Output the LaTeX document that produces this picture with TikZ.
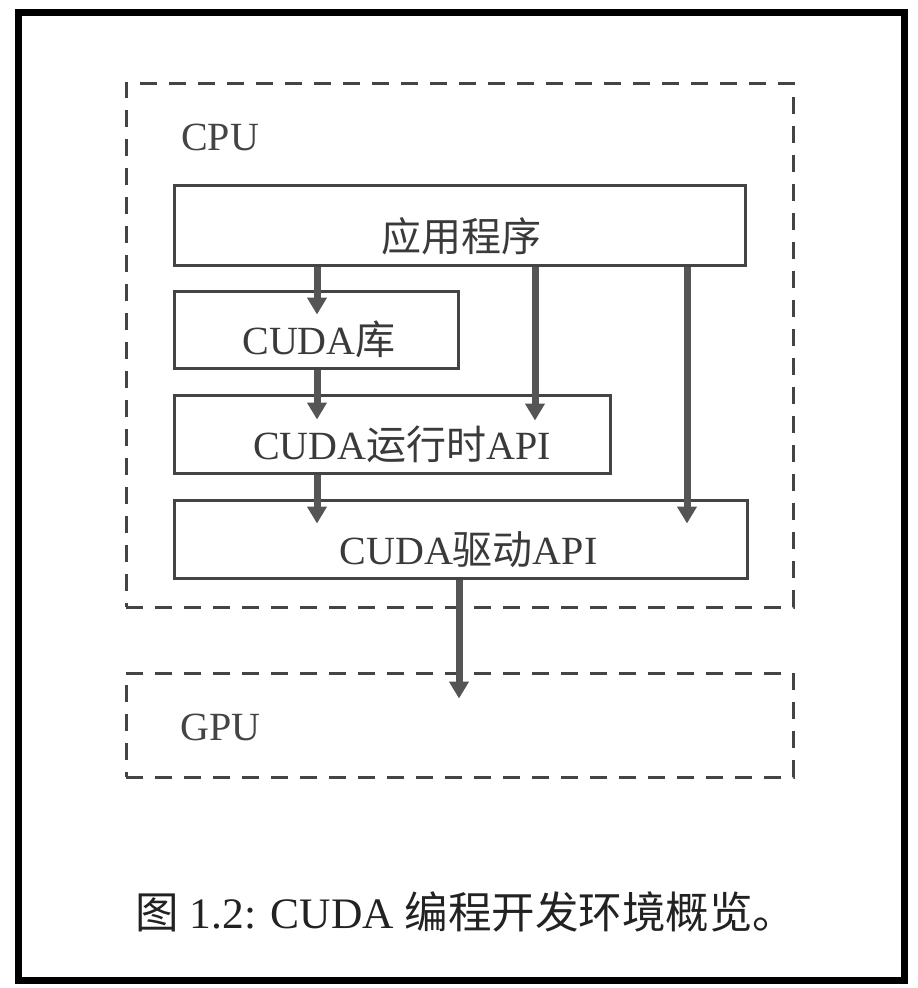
\documentclass[tikz,border=0pt]{standalone}
\usepackage{fontspec}
\setmainfont{Liberation Serif}
\newfontfamily\cjk{Noto Sans CJK SC}
\usetikzlibrary{arrows.meta}
\definecolor{boxline}{HTML}{444444}
\definecolor{arrowc}{HTML}{555555}
\definecolor{txt}{HTML}{3A3A3A}
\definecolor{captxt}{HTML}{222222}
\tikzset{
  layer/.style={draw=boxline, line width=3pt, rectangle, inner sep=0pt},
  zone/.style={draw=boxline, line width=3pt, rectangle, inner sep=0pt, dash pattern=on 17pt off 12pt},
  lbl/.style={text=txt, font=\fontsize{40}{48}\selectfont, inner sep=0pt},
  arr/.style={draw=arrowc, line width=7pt, -{Triangle[width=19pt,length=17pt]}},
}
\begin{document}
\begin{tikzpicture}[x=1pt,y=-1pt]
\useasboundingbox (0,0) rectangle (918,988);
\fill[white] (0,0) rectangle (918,988);
% outer frame
\node[draw=black, line width=7pt, minimum width=886pt, minimum height=968pt, inner sep=0pt] (frame) at (461,496) {};
% zones
\node[zone, minimum width=667pt, minimum height=524pt] (cpu) at (459.5,345) {};
\node[zone, minimum width=667pt, minimum height=104pt] (gpu) at (459.5,725) {};
\node[lbl, anchor=base west, text=boxline] (cpulbl) at (181,150) {CPU};
\node[lbl, anchor=base west, text=boxline] (gpulbl) at (180,740) {GPU};
% layers
\node[layer, minimum width=571pt, minimum height=80pt,
  label={[lbl,yshift=-11pt,xshift=2pt]center:{\cjk 应用程序}}] (app) at (459.5,225) {};
\node[layer, minimum width=284pt, minimum height=77pt,
  label={[lbl,yshift=-10pt,xshift=3pt]center:CUDA{\cjk 库}}] (lib) at (316,329.5) {};
\node[layer, minimum width=436pt, minimum height=78pt,
  label={[lbl,yshift=-10pt,xshift=10pt]center:CUDA{\cjk 运行时}API}] (rt) at (392,434) {};
\node[layer, minimum width=573pt, minimum height=78pt,
  label={[lbl,yshift=-11pt,xshift=8pt]center:CUDA{\cjk 驱动}API}] (drv) at (460.5,539) {};
% arrows
\draw[arr] (app.south -| 317,0) -- ([yshift=-25pt]lib.north -| 317,0);
\draw[arr] (lib.south -| 317,0) -- ([yshift=-26pt]rt.north -| 317,0);
\draw[arr] (rt.south -| 317,0) -- ([yshift=-25pt]drv.north -| 317,0);
\draw[arr] (app.south -| 535,0) -- ([yshift=-27pt]rt.north -| 535,0);
\draw[arr] (app.south -| 687,0) -- ([yshift=-25pt]drv.north -| 687,0);
\draw[arr] (drv.south -| 459,0) -- ([yshift=-27pt]gpu.north -| 459,0);
% caption
\node[text=captxt, font=\fontsize{43.5}{52}\selectfont, inner sep=0pt] (cap) at (466,912)
  {{\cjk 图} 1.2: CUDA {\cjk 编程开发环境概览。}};
\end{tikzpicture}
\end{document}
